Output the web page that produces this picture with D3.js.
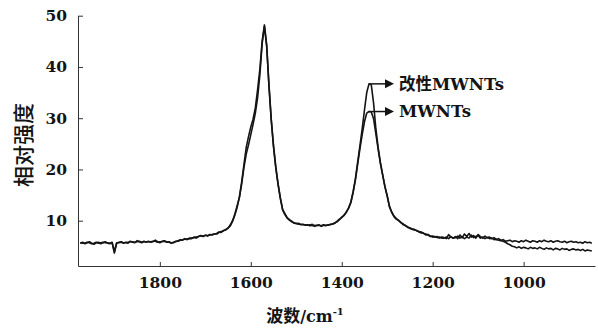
<!DOCTYPE html>
<html>
<head>
<meta charset="utf-8">
<script src="https://cdn.jsdelivr.net/npm/d3@7"></script>
<style>
body { margin: 0; background: #fff; }
</style>
</head>
<body>
<div class="chart"></div>
<script>
// Raman spectra, sampled every 5 cm-1 from 1975 down to 850
const wavenumbers = d3.range(1975, 845, -5)

// 改性MWNTs (modified)
const modified = [
  5.6, 5.8, 5.5, 5.7, 5.9, 5.6, 5.4, 5.7, 5.8, 5.5,
  5.7, 5.9, 5.6, 5.5, 5.8, 3.7, 5.6, 5.8, 5.9, 5.6,
  5.8, 5.6, 6.0, 5.8, 5.7, 6.1, 5.9, 5.7, 6.0, 5.8,
  6.0, 5.8, 5.9, 6.2, 5.9, 5.7, 6.0, 6.1, 5.8, 5.9,
  5.6, 5.8, 5.9, 6.1, 6.3, 6.2, 6.5, 6.3, 6.6, 6.5,
  6.8, 6.6, 6.9, 7.1, 6.9, 7.2, 7.0, 7.3, 7.2, 7.4,
  7.5, 7.8, 7.7, 8.1, 8.2, 8.6, 9.0, 9.9, 11.1, 12.6,
  14.7, 17.6, 21.0, 24.3, 26.4, 28.3, 29.8, 32.0, 35.6, 39.6,
  45.0, 48.2, 44.2, 36.2, 29.6, 24.4, 20.3, 17.1, 14.3, 12.1,
  11.2, 10.5, 10.1, 9.8, 9.6, 9.4, 9.5, 9.2, 9.3, 9.1,
  9.2, 9.0, 9.3, 8.9, 9.1, 9.2, 8.9, 9.1, 9.0, 9.2,
  9.2, 9.4, 9.5, 9.9, 10.3, 10.6, 11.1, 11.6, 12.5, 13.6,
  15.6, 18.1, 21.4, 24.6, 27.9, 31.6, 35.0, 36.7, 36.5, 33.0,
  28.0, 24.3, 21.4, 19.0, 16.6, 14.8, 12.7, 11.6, 10.8, 10.3,
  10.0, 9.7, 9.2, 9.1, 8.7, 8.6, 8.3, 8.3, 8.0, 7.9,
  7.8, 7.5, 7.4, 7.2, 6.9, 7.0, 6.8, 6.9, 6.6, 6.8,
  6.7, 6.5, 7.3, 6.8, 6.6, 6.9, 6.5, 7.2, 6.7, 7.4,
  6.9, 7.5, 6.8, 7.1, 6.6, 7.3, 6.9, 6.6, 7.0, 6.7,
  6.8, 6.5, 6.7, 6.3, 6.5, 6.2, 6.3, 6.0, 6.1, 6.2,
  5.9, 6.1, 6.0, 5.8, 6.1, 5.9, 6.2, 6.0, 5.8, 6.1,
  6.0, 5.8, 6.1, 5.9, 6.2, 6.0, 5.9, 6.1, 5.8, 6.0,
  6.1, 5.9, 5.8, 6.0, 5.7, 5.9, 6.0, 5.8, 5.9, 5.7,
  5.8, 5.6, 5.9, 5.7, 5.8, 5.6
]

// MWNTs
const pristine = [
  5.7, 5.6, 5.6, 5.8, 5.7, 5.5, 5.6, 5.8, 5.6, 5.7,
  5.8, 5.7, 5.7, 5.6, 5.7, 4.0, 5.7, 5.7, 5.8, 5.7,
  5.7, 5.8, 5.9, 5.9, 5.8, 5.9, 6.0, 5.8, 5.9, 5.9,
  5.9, 5.9, 6.0, 6.0, 5.8, 5.9, 5.9, 6.0, 5.9, 5.8,
  5.7, 5.7, 6.0, 6.0, 6.2, 6.3, 6.4, 6.4, 6.5, 6.6,
  6.7, 6.8, 6.9, 7.0, 7.0, 7.1, 7.1, 7.2, 7.3, 7.4,
  7.4, 7.7, 7.9, 8.0, 8.3, 8.5, 9.2, 10.0, 11.3, 12.9,
  14.5, 17.2, 20.4, 23.0, 24.8, 26.8, 28.8, 31.0, 34.0, 38.5,
  44.6, 47.9, 44.0, 36.5, 29.8, 24.6, 20.5, 17.2, 14.5, 12.2,
  11.4, 10.6, 10.2, 9.9, 9.5, 9.5, 9.3, 9.3, 9.2, 9.2,
  9.1, 9.2, 9.0, 9.1, 9.0, 9.1, 9.0, 9.2, 9.1, 9.1,
  9.3, 9.3, 9.6, 9.8, 10.2, 10.7, 11.0, 11.7, 12.4, 13.5,
  15.5, 17.9, 21.0, 24.0, 26.8, 29.3, 31.0, 31.3, 31.2, 29.9,
  27.0, 24.0, 21.2, 18.9, 16.7, 14.9, 12.8, 11.7, 10.9, 10.4,
  10.1, 9.6, 9.4, 9.0, 8.8, 8.5, 8.4, 8.2, 8.1, 7.8,
  7.6, 7.6, 7.2, 7.3, 7.0, 6.8, 6.9, 6.7, 6.8, 6.6,
  6.6, 6.8, 6.5, 6.9, 6.6, 6.7, 7.0, 6.6, 6.8, 6.5,
  6.8, 6.6, 7.2, 6.7, 6.9, 7.1, 6.6, 6.8, 6.5, 6.7,
  6.5, 6.6, 6.3, 6.4, 6.2, 6.1, 6.0, 5.8, 5.5, 5.3,
  5.0, 4.9, 4.7, 4.9, 4.6, 4.8, 4.7, 4.5, 4.8, 4.6,
  4.7, 4.5, 4.8, 4.6, 4.4, 4.7, 4.5, 4.6, 4.3, 4.6,
  4.5, 4.3, 4.6, 4.4, 4.5, 4.2, 4.4, 4.5, 4.3, 4.4,
  4.2, 4.4, 4.1, 4.3, 4.2, 4.1
]

const seriesNames = ["改性MWNTs", "MWNTs"]
const xTicks = [1800, 1600, 1400, 1200, 1000]
const yTicks = [10, 20, 30, 40, 50]

const ink = "#141414"
const serif = "'DejaVu Serif', 'Liberation Serif', serif"
const cjk = "'Noto Sans CJK SC', sans-serif"

let width = 598
let height = 328

let svg = d3.select(".chart")
.append("svg")
.attr("width", width)
.attr("height", height)

let x = d3.scaleLinear()
.domain([1980, 843])
.range([78, 595])

let y = d3.scaleLinear()
.domain([1.16, 50])
.range([266, 15.7])

// axes, ticks point inward
let xAxis = svg.append("g")
.attr("transform", "translate(0,266)")
.call(d3.axisBottom(x).tickValues(xTicks).tickFormat(d3.format("d"))
  .tickSize(-4).tickSizeOuter(0).tickPadding(11))

let yAxis = svg.append("g")
.attr("transform", "translate(78,0)")
.call(d3.axisLeft(y).tickValues(yTicks).tickFormat(d3.format("d"))
  .tickSize(-5).tickSizeOuter(0).tickPadding(11))

svg.selectAll(".domain, .tick line")
.attr("stroke", "#333")
.attr("stroke-width", 1)

svg.selectAll(".tick text")
.attr("fill", ink)
.style("font-family", serif)
.style("font-weight", "bold")
.style("font-size", "15.5px")

// spectra
let line = d3.line()
.x((d, i) => x(wavenumbers[i]))
.y(d => y(d))

let series = [modified, pristine]

svg.selectAll("path.spectrum")
.data(series)
.enter()
.append("path")
.attr("class", "spectrum")
.attr("d", line)
.attr("fill", "none")
.attr("stroke", ink)
.attr("stroke-width", 1.6)
.attr("stroke-linejoin", "round")

// arrows from each D-band top to its label
series.map((s, k) => {
  let dBand = s.map((v, i) => i).filter(i => wavenumbers[i] < 1450)
  let top = dBand.reduce((a, b) => s[b] > s[a] ? b : a)
  let px = x(wavenumbers[top])
  let py = y(s[top])

  svg.append("line")
  .attr("x1", px).attr("y1", py)
  .attr("x2", 387).attr("y2", py)
  .attr("stroke", ink)
  .attr("stroke-width", 1.5)

  svg.append("path")
  .attr("d", `M385,${py - 4.5}L394,${py}L385,${py + 4.5}Z`)
  .attr("fill", ink)

  svg.append("text")
  .attr("x", 399)
  .attr("y", py)
  .attr("dy", "0.36em")
  .attr("fill", ink)
  .style("font-family", "'DejaVu Serif', 'Noto Sans CJK SC', serif")
  .style("font-weight", "bold")
  .style("font-size", "16.5px")
  .text(seriesNames[k])
})

// axis titles
svg.append("text")
.attr("transform", "translate(24,145) rotate(-90)")
.attr("text-anchor", "middle")
.attr("dy", "0.35em")
.attr("fill", ink)
.style("font-family", cjk)
.style("font-weight", 500)
.style("font-size", "21px")
.text("相对强度")

let xTitle = svg.append("text")
.attr("x", 305)
.attr("y", 322)
.attr("text-anchor", "middle")
.attr("fill", ink)

xTitle.append("tspan")
.style("font-family", cjk)
.style("font-weight", "bold")
.style("font-size", "17px")
.text("波数")

xTitle.append("tspan")
.style("font-family", serif)
.style("font-weight", "bold")
.style("font-size", "16px")
.text("/cm")

xTitle.append("tspan")
.attr("dy", -7)
.style("font-family", serif)
.style("font-weight", "bold")
.style("font-size", "10px")
.text("-1")
</script>
</body>
</html>
